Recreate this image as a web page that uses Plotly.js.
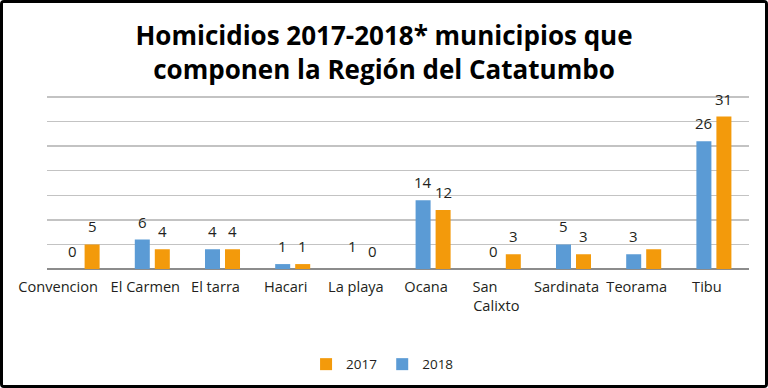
<!DOCTYPE html>
<html>
<head>
<meta charset="utf-8">
<script src="https://cdn.plot.ly/plotly-3.0.1.min.js"></script>
<style>
html,body{margin:0;padding:0;background:#fff;}
#frame{width:768px;height:388px;box-sizing:border-box;border:3px solid #000;border-radius:4px;overflow:hidden;}
#chart{width:762px;height:382px;}
</style>
</head>
<body>
<div id="frame"><div id="chart"></div></div>
<script>
const categories = ["Convencion","El Carmen","El tarra","Hacari","La playa","Ocana","San Calixto","Sardinata","Teorama","Tibu"];
const tickLabels = ["Convencion","El Carmen","El tarra","Hacari","La playa","Ocana","San&nbsp;&nbsp;&nbsp;&nbsp;&nbsp;&nbsp;<br>Calixto","Sardinata","Teorama","Tibu"];
// left bar (blue, legend "2018") and right bar (orange, legend "2017")
const blueValues   = [0, 6, 4, 1, 0, 14, 0, 5, 3, 26];
const orangeValues = [5, 4, 4, 1, 0, 12, 3, 3, 4, 31];
// data labels as printed on the chart
const blueLabels   = ["0","6","4","1","1","14","0","5","3","26"];
const blueLabelAt  = [0, 6, 4, 1, 1, 14, 0, 5, 3, 26];
const orangeLabels = ["5","4","4","1","0","12","3","3","","31"];
const orangeLabelAt= [5, 4, 4, 1, 0, 12, 3, 3, 4, 31];
const gridTicks = [0,5,10,15,20,25,30,35];
const blueName = "2018", orangeName = "2017";

const BLUE = "#5B9BD5", ORANGE = "#F39A0B", TXT = "#231F20";
const FONT = "Open Sans, Noto Sans, sans-serif";

const traces = [
  {type:"bar", x:categories, y:blueValues, name:blueName, marker:{color:BLUE}, hoverinfo:"none"},
  {type:"bar", x:categories, y:orangeValues, name:orangeName, marker:{color:ORANGE}, hoverinfo:"none"},
  // invisible carrier so the second (label-only) category axis is drawn
  {type:"scatter", mode:"markers", x:categories, y:blueValues, xaxis:"x2", yaxis:"y", marker:{opacity:0, size:1}, showlegend:false, hoverinfo:"none"}
];

const annotations = [];
categories.forEach((c,i)=>{
  if (blueLabels[i] !== "") annotations.push({x:c, y:blueLabelAt[i], xref:"x", yref:"y", text:blueLabels[i], showarrow:false, xshift:-10, yshift:18, font:{family:FONT,size:15,color:TXT}});
  if (orangeLabels[i] !== "") annotations.push({x:c, y:orangeLabelAt[i], xref:"x", yref:"y", text:orangeLabels[i], showarrow:false, xshift:10, yshift:18, font:{family:FONT,size:15,color:TXT}});
});

const catRange = [-0.5, categories.length - 0.5];
const tickFont = {family:FONT,size:14.6,color:TXT};
const layout = {
  width:762, height:382,
  margin:{l:44, r:16, t:91, b:116, autoexpand:false},
  paper_bgcolor:"#fff", plot_bgcolor:"#fff",
  font:{family:FONT, color:TXT},
  title:{text:"<b>Homicidios 2017-2018* municipios que<br>componen la Región del Catatumbo</b>", x:0.5, xanchor:"center", y:0.889, yanchor:"middle", font:{family:FONT, size:26, color:"#000"}},
  barmode:"group", bargap:0.43, bargroupgap:0.25,
  xaxis:{type:"category", categoryorder:"array", categoryarray:categories, range:catRange, tickvals:categories.slice(1), ticktext:tickLabels.slice(1), tickangle:0, automargin:false, showgrid:false, showline:false, ticks:"", tickfont:tickFont, ticklabelshift:-7, ticklabelstandoff:7, fixedrange:true},
  xaxis2:{type:"category", overlaying:"x", anchor:"y", side:"bottom", categoryorder:"array", categoryarray:categories, range:catRange, tickvals:categories.slice(0,1), ticktext:tickLabels.slice(0,1), tickangle:0, automargin:false, showgrid:false, showline:false, zeroline:false, ticks:"", tickfont:tickFont, ticklabelshift:-24, ticklabelstandoff:7, fixedrange:true},
  yaxis:{range:[0,35.6], tickvals:gridTicks, automargin:false, showticklabels:false, showgrid:true, gridcolor:"#C3C3C3", gridwidth:1.5, zeroline:true, zerolinecolor:"#8C8C8C", zerolinewidth:2, showline:false, ticks:"", fixedrange:true},
  showlegend:true,
  legend:{orientation:"h", traceorder:"reversed", x:0.478, xanchor:"center", y:-0.545, yanchor:"middle", font:{family:FONT,size:13.5,color:TXT}, itemclick:false},
  annotations:annotations
};

Plotly.newPlot("chart", traces, layout, {displayModeBar:false, staticPlot:true});
</script>
</body>
</html>
